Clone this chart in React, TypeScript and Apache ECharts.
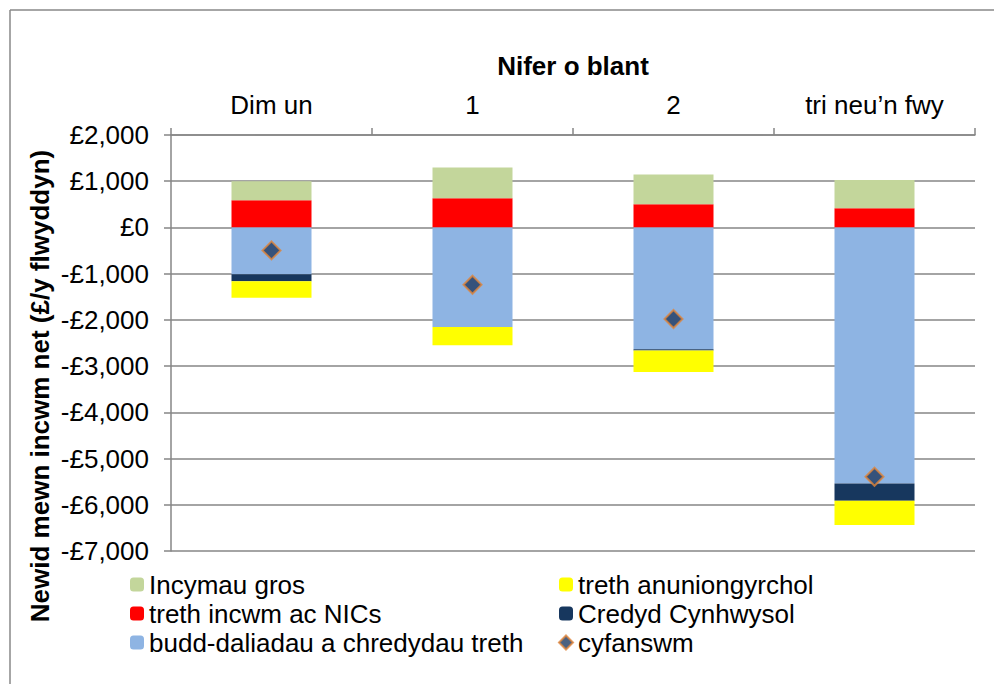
import React, { useEffect, useRef } from "react";
import * as echarts from "echarts";

const categories = ["Dim un", "1", "2", "tri neu’n fwy"];
const incymauGros = [410, 663, 642, 611];
const trethIncwm = [590, 633, 503, 417];
const buddDaliadau = [-1010, -2153, -2635, -5538];
const credydCynhwysol = [-156, 0, -25, -373];
const trethAnuniongyrchol = [-354, -396, -465, -525];
const cyfanswm = [-497, -1240, -1981, -5393];
const yTitle = "Newid mewn incwm net (£/y flwyddyn)";

const FONT = "'Liberation Sans', Arial, sans-serif";
const FS = 26;
const GRID = "#868686";

function fmt(v: number): string {
  const a = Math.abs(v).toLocaleString("en-GB");
  return (v < 0 ? "-" : "") + "£" + a;
}

export default function App() {
  const ref = useRef<HTMLDivElement>(null);
  useEffect(() => {
    if (!ref.current) return;
    const chart = echarts.init(ref.current, undefined, { renderer: "svg" });
    const barBase = { type: "bar", stack: "total", barWidth: 80 };
    chart.setOption({
      animation: false,
      backgroundColor: "#ffffff",
      textStyle: { fontFamily: FONT },
      grid: { left: 171, right: 19, top: 135, bottom: 133 },
      graphic: [
        { type: "line", shape: { x1: 10, y1: 10, x2: 994, y2: 10 }, style: { stroke: "#898989", lineWidth: 1.5 } },
        { type: "line", shape: { x1: 10, y1: 10, x2: 10, y2: 684 }, style: { stroke: "#898989", lineWidth: 1.5 } },
        {
          type: "text",
          x: 40,
          y: 386,
          rotation: Math.PI / 2,
          style: {
            text: yTitle,
            fill: "#000",
            font: `bold 26px ${FONT}`,
            align: "center",
            verticalAlign: "middle",
          },
        },
      ],
      xAxis: {
        type: "category",
        position: "top",
        data: categories,
        name: "Nifer o blant",
        nameLocation: "middle",
        nameGap: 56,
        nameTextStyle: { fontSize: FS, fontWeight: "bold", color: "#000", fontFamily: FONT },
        axisLine: { show: true, onZero: false, lineStyle: { color: GRID, width: 1.5 } },
        axisTick: { show: true, length: 7, lineStyle: { color: GRID, width: 1.5 } },
        axisLabel: { fontSize: FS, color: "#000", margin: 17, fontFamily: FONT },
      },
      yAxis: {
        type: "value",
        min: -7000,
        max: 2000,
        interval: 1000,
        axisLine: { show: true, lineStyle: { color: GRID, width: 1.5 } },
        axisTick: { show: true, length: 7, lineStyle: { color: GRID, width: 1.5 } },
        splitLine: { show: true, lineStyle: { color: GRID, width: 1.5 } },
        axisLabel: { fontSize: FS, color: "#000", margin: 22, formatter: fmt, fontFamily: FONT },
      },
      legend: [
        {
          orient: "vertical",
          left: 125,
          top: 565,
          itemWidth: 14,
          itemHeight: 14,
          itemGap: 0,
          textStyle: { fontSize: FS, color: "#000", lineHeight: 29, fontFamily: FONT },
          data: ["Incymau gros", "treth incwm ac NICs", "budd-daliadau a chredydau treth"],
        },
        {
          orient: "vertical",
          left: 553,
          top: 565,
          itemWidth: 14,
          itemHeight: 14,
          itemGap: 0,
          textStyle: { fontSize: FS, color: "#000", lineHeight: 29, fontFamily: FONT },
          data: ["treth anuniongyrchol", "Credyd Cynhwysol", "cyfanswm"],
        },
      ],
      series: [
        { ...barBase, name: "treth incwm ac NICs", data: trethIncwm, itemStyle: { color: "#FF0000" } },
        { ...barBase, name: "Incymau gros", data: incymauGros, itemStyle: { color: "#C3D69B" } },
        { ...barBase, name: "budd-daliadau a chredydau treth", data: buddDaliadau, itemStyle: { color: "#8EB4E3" } },
        { ...barBase, name: "Credyd Cynhwysol", data: credydCynhwysol, itemStyle: { color: "#17375E" } },
        { ...barBase, name: "treth anuniongyrchol", data: trethAnuniongyrchol, itemStyle: { color: "#FFFF00" } },
        {
          type: "scatter",
          name: "cyfanswm",
          data: cyfanswm,
          symbol: "diamond",
          symbolSize: 18,
          z: 5,
          itemStyle: { color: "#1F3A60", borderColor: "#E0843A", borderWidth: 2 },
        },
      ],
    });
    return () => chart.dispose();
  }, []);
  return (
    <div
      ref={ref}
      style={{ position: "fixed", left: 0, top: 0, width: 994, height: 684, background: "#fff" }}
    />
  );
}
